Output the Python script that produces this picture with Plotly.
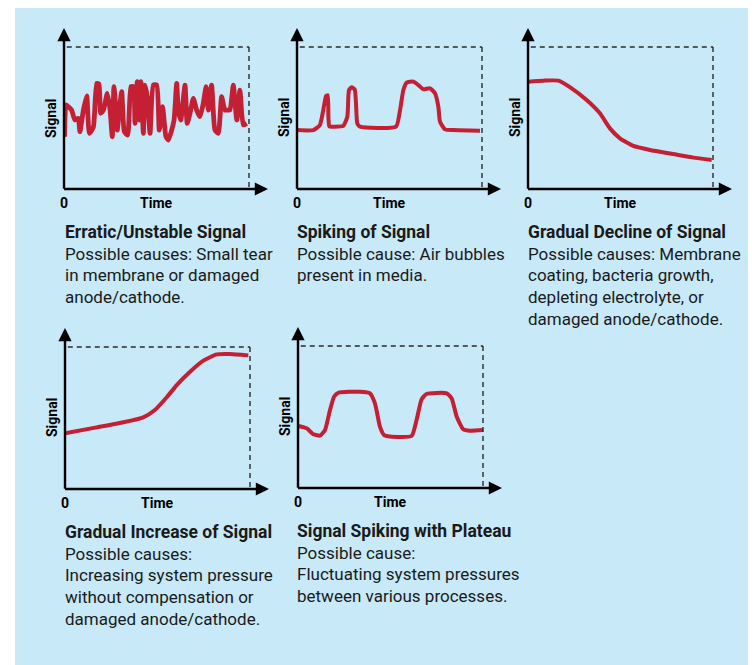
import plotly.graph_objects as go

# ---------------- data (time 0-100, signal 0-100; 100 = dashed limit) ----------------
erratic_t = [0.3, 1.1, 2.3, 4.1, 5.9, 7.7, 8.6, 10.5, 12.3, 13.7, 15.9, 17.7, 18.9, 19.8, 21.3,
             23.4, 24.9, 26.1, 27.0, 28.1, 28.8, 29.9, 31.2, 32.6, 34.4, 36.2, 37.5, 38.4, 39.6,
             40.7, 41.6, 42.9, 43.8, 45.0, 46.5, 48.3, 50.1, 51.5, 53.3, 55.1, 56.4, 58.2, 59.5,
             60.9, 61.8, 63.1, 65.4, 66.6, 68.1, 69.9, 71.7, 73.5, 75.3, 76.8, 78.0, 79.8, 81.6,
             83.4, 85.2, 87.0, 88.3, 89.7, 91.5, 93.4, 95.1, 96.9, 98.8]
erratic_s = [36.8, 59.2, 58.0, 55.6, 48.6, 49.8, 40.4, 55.6, 65.5, 39.2, 43.9, 74.4, 73.9, 53.3, 55.6,
             67.4, 55.6, 36.8, 72.1, 55.6, 41.5, 55.6, 68.5, 40.4, 38.0, 72.1, 72.1, 46.2, 75.6,
             48.6, 75.6, 39.2, 73.2, 65.0, 39.2, 73.2, 73.2, 41.5, 58.0, 36.8, 34.5, 41.5, 48.6,
             74.4, 55.6, 48.6, 73.2, 46.2, 53.3, 63.8, 55.6, 50.9, 60.3, 72.1, 55.6, 73.2, 41.5,
             39.2, 65.0, 55.6, 55.6, 55.6, 73.2, 48.6, 69.7, 45.1, 46.2]

spike_t = [0, 8.8, 12.4, 14.2, 15.7, 16.6, 17.0, 17.5, 19.6, 25.0, 27.2, 28.1, 29.5, 31.2, 31.9,
           32.6, 34.1, 53.5, 55.7, 57.5, 59.3, 62.9, 65.6, 68.3, 71.9, 74.6, 76.4, 77.3, 80.0,
           84.5, 98.9]
spike_s = [41.5, 41.5, 45.1, 55.6, 65.5, 66.0, 50.0, 44.0, 43.9, 44.4, 50.9, 69.7, 71.6, 70.0, 60.0,
           46.2, 43.9, 43.9, 55.6, 69.7, 74.9, 75.6, 73.2, 70.2, 70.9, 67.4, 58.0, 47.4, 42.0,
           41.5, 41.1]

decline_t = [0, 8.3, 16.4, 23.6, 31.7, 38.9, 44.3, 49.7, 56.9, 65.9, 78.5, 89.4, 99.3]
decline_s = [75.6, 76.3, 76.3, 70.9, 62.7, 53.3, 42.7, 35.7, 30.3, 27.5, 24.6, 22.1, 20.4]

increase_t = [0, 17.1, 31.5, 42.3, 48.6, 55.0, 60.4, 67.6, 74.8, 82.0, 89.2, 99.1]
increase_s = [39.2, 43.4, 47.0, 50.5, 55.6, 64.6, 73.2, 82.6, 90.4, 94.8, 95.1, 94.1]

plateau_t = [0.2, 4.7, 8.3, 11.9, 14.6, 17.3, 19.5, 21.8, 33.5, 38.9, 41.6, 44.3, 46.5, 49.7,
             61.4, 64.1, 66.8, 69.5, 80.4, 83.1, 85.8, 89.4, 93.0, 100]
plateau_s = [43.7, 42.0, 37.8, 36.9, 40.8, 54.9, 64.3, 67.1, 67.8, 66.7, 59.6, 43.2, 37.3, 36.2,
             36.6, 47.9, 62.4, 66.2, 66.7, 63.1, 50.2, 41.3, 40.4, 40.8]

titles = ["Erratic/Unstable Signal", "Spiking of Signal", "Gradual Decline of Signal",
          "Gradual Increase of Signal", "Signal Spiking with Plateau"]
captions = [
    ["Possible causes: Small tear", "in membrane or damaged", "anode/cathode."],
    ["Possible cause: Air bubbles", "present in media."],
    ["Possible causes: Membrane", "coating, bacteria growth,", "depleting electrolyte, or",
     "damaged anode/cathode."],
    ["Possible causes:", "Increasing system pressure", "without compensation or",
     "damaged anode/cathode."],
    ["Possible cause:", "Fluctuating system pressures", "between various processes."],
]
axis_x_label = "Time"
axis_y_label = "Signal"
origin_label = "0"

series = [(erratic_t, erratic_s), (spike_t, spike_s), (decline_t, decline_s),
          (increase_t, increase_s), (plateau_t, plateau_s)]

# ---------------- layout geometry ----------------
OFF = 8                      # default page margin of the html body
W, H = 756 - OFF, 665 - OFF
BLUE = "#c7e9f8"
RED = "#c41f33"
INK = "#1a1a1a"
FONT = "Roboto"
# screen-pixel positions: left x of y-axis, y of x-axis
origins = [(64, 189), (297, 189), (528, 189), (65, 489), (298, 488)]
widths = [4.8, 4, 4, 4, 4]
text_top = [(63, 232), (295, 232), (526, 232), (63, 532), (295, 531)]
LINE_GAP = 21.7
PX_W, PX_H = 204, 161   # axis lengths incl. arrow
XMAX = PX_W / 1.85
YMAX = PX_H / 1.42


def fx(px):
    return (px - OFF) / W


def fy(py):
    return 1 - (py - OFF) / H


fig = go.Figure()
layout = dict(width=W, height=H, margin=dict(l=0, r=0, t=0, b=0),
              paper_bgcolor="white", plot_bgcolor="rgba(0,0,0,0)", showlegend=False)
shapes = [dict(type="rect", xref="paper", yref="paper", x0=fx(15), x1=1, y0=0, y1=1,
               fillcolor=BLUE, line=dict(width=0), layer="below")]
annotations = []

for i, ((t, s), (ox, oy)) in enumerate(zip(series, origins)):
    sfx = "" if i == 0 else str(i + 1)
    xa, ya = "x" + sfx, "y" + sfx
    fig.add_trace(go.Scatter(x=t, y=s, mode="lines", xaxis=xa, yaxis=ya, hoverinfo="skip",
                             line=dict(color=RED, width=widths[i], shape="spline", smoothing=0.5)))
    layout["xaxis" + sfx] = dict(domain=[fx(ox), fx(ox + PX_W)], range=[0, XMAX], anchor=ya,
                                 visible=False, fixedrange=True)
    layout["yaxis" + sfx] = dict(domain=[fy(oy), fy(oy - PX_H)], range=[0, YMAX],
                                 anchor=xa, visible=False, fixedrange=True)
    # dashed limits
    for (x0, y0, x1, y1) in [(1.5, 100, 100, 100), (100, 100, 100, 0)]:
        shapes.append(dict(type="line", xref=xa, yref=ya, x0=x0, y0=y0, x1=x1, y1=y1,
                           line=dict(color="#2a2a2a", width=1.4, dash="5px,4px")))
    # axis arrows
    for (x, y, axx, ayy) in [(XMAX, 0, -0.8, 0), (0, YMAX, 0, -0.8)]:
        annotations.append(dict(x=x, y=y, ax=axx, ay=ayy, xref=xa, yref=ya, axref=xa, ayref=ya,
                                text="", showarrow=True, arrowhead=2, arrowsize=1.1,
                                arrowwidth=2.4, arrowcolor="black", standoff=0))
    annotations.append(dict(x=0, y=0, xref=xa, yref=ya, text="<b>" + origin_label + "</b>",
                            showarrow=False, yshift=-14, font=dict(family=FONT, size=14, color="black")))
    annotations.append(dict(x=50, y=0, xref=xa, yref=ya, text="<b>" + axis_x_label + "</b>",
                            showarrow=False, yshift=-14, font=dict(family=FONT, size=14, color="black")))
    annotations.append(dict(x=0, y=50, xref=xa, yref=ya, text="<b>" + axis_y_label + "</b>",
                            showarrow=False, xshift=-13, textangle=-90,
                            font=dict(family=FONT, size=14, color="black")))
    # description text
    tx, ty = text_top[i]
    lines = ["<b>" + titles[i] + "</b>"] + captions[i]
    for k, ln in enumerate(lines):
        annotations.append(dict(x=fx(tx), y=fy(ty + k * LINE_GAP), xref="paper", yref="paper",
                                xanchor="left", yanchor="middle", text=ln, showarrow=False,
                                font=dict(family=FONT, size=17.5 if k == 0 else 17, color=INK)))

layout["shapes"] = shapes
layout["annotations"] = annotations
fig.update_layout(**layout)
fig.write_html("out.html")
